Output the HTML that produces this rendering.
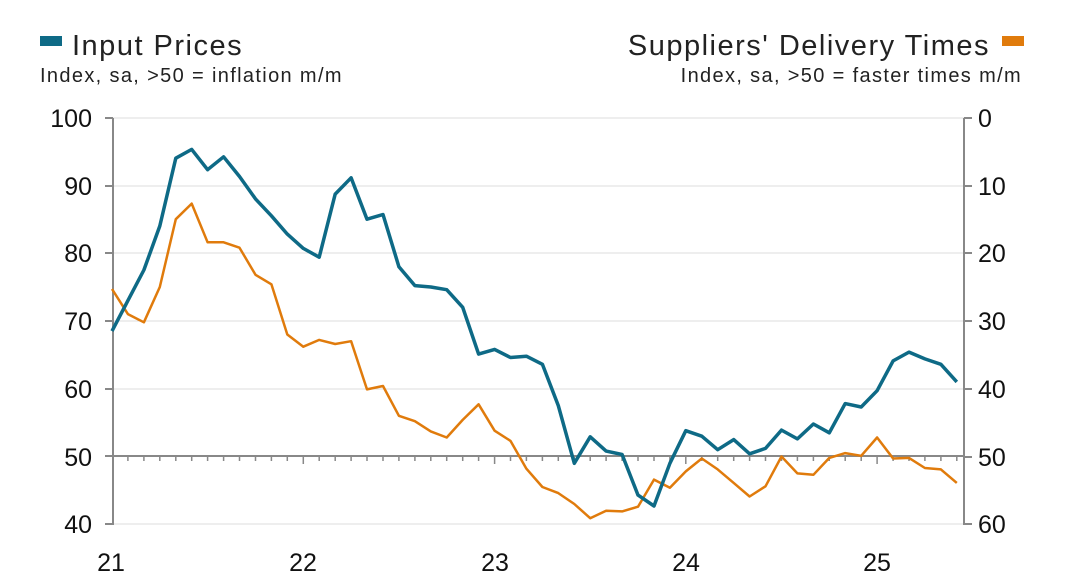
<!DOCTYPE html>
<html><head><meta charset="utf-8"><style>
body{margin:0;background:#fff;}
svg{display:block;font-family:"Liberation Sans",sans-serif;}
</style></head><body>
<svg width="1068" height="580" xmlns="http://www.w3.org/2000/svg">
<rect x="40" y="36" width="22" height="10" fill="#0e6a86"/>
<text x="72" y="55" font-size="29" letter-spacing="1.5" fill="#222">Input Prices</text>
<text x="40" y="82" font-size="20" letter-spacing="1.35" fill="#222">Index, sa, &gt;50 = inflation m/m</text>
<rect x="1002" y="36" width="22" height="10" fill="#e07b0c"/>
<text x="990" y="55" font-size="29" letter-spacing="1.5" fill="#222" text-anchor="end">Suppliers' Delivery Times</text>
<text x="1022" y="82" font-size="20" letter-spacing="1.35" fill="#222" text-anchor="end">Index, sa, &gt;50 = faster times m/m</text>
<g stroke="#dcdcdc" stroke-width="1">
<line x1="112" x2="965" y1="118" y2="118"/><line x1="112" x2="965" y1="186" y2="186"/>
<line x1="112" x2="965" y1="253" y2="253"/><line x1="112" x2="965" y1="321" y2="321"/>
<line x1="112" x2="965" y1="389" y2="389"/><line x1="112" x2="965" y1="524" y2="524"/>
</g>
<g stroke="#888" stroke-width="2" fill="none">
<line x1="113" y1="118" x2="113" y2="525"/><line x1="105" y1="118" x2="113" y2="118"/>
<line x1="105" y1="186" x2="113" y2="186"/><line x1="105" y1="253" x2="113" y2="253"/>
<line x1="105" y1="321" x2="113" y2="321"/><line x1="105" y1="389" x2="113" y2="389"/>
<line x1="105" y1="524" x2="113" y2="524"/>
<line x1="964" y1="118" x2="964" y2="525"/><line x1="964" y1="118" x2="972" y2="118"/>
<line x1="964" y1="186" x2="972" y2="186"/><line x1="964" y1="253" x2="972" y2="253"/>
<line x1="964" y1="321" x2="972" y2="321"/><line x1="964" y1="389" x2="972" y2="389"/>
<line x1="964" y1="457" x2="972" y2="457"/><line x1="964" y1="524" x2="972" y2="524"/>
<line x1="105" y1="456" x2="964" y2="456"/>
</g>
<path stroke="#888" stroke-width="1.5" fill="none" d="M127.9 456v5M143.9 456v5M159.8 456v5M175.8 456v5M191.7 456v5M207.6 456v5M223.6 456v5M239.5 456v5M255.5 456v5M271.4 456v5M287.3 456v5M303.3 456v8M319.2 456v5M335.2 456v5M351.1 456v5M367 456v5M383 456v5M398.9 456v5M414.9 456v5M430.8 456v5M446.7 456v5M462.7 456v5M478.6 456v5M494.6 456v8M510.5 456v5M526.4 456v5M542.4 456v5M558.3 456v5M574.3 456v5M590.2 456v5M606.1 456v5M622.1 456v5M638 456v5M654 456v5M669.9 456v5M685.8 456v8M701.8 456v5M717.7 456v5M733.7 456v5M749.6 456v5M765.5 456v5M781.5 456v5M797.4 456v5M813.4 456v5M829.3 456v5M845.2 456v5M861.2 456v5M877.1 456v8M893.1 456v5M909 456v5M924.9 456v5M940.9 456v5M956.8 456v5"/>
<g font-size="25" fill="#111">
<text x="92" y="127" text-anchor="end">100</text><text x="92" y="195" text-anchor="end">90</text>
<text x="92" y="262" text-anchor="end">80</text><text x="92" y="330" text-anchor="end">70</text>
<text x="92" y="398" text-anchor="end">60</text><text x="92" y="466" text-anchor="end">50</text>
<text x="92" y="533" text-anchor="end">40</text>
<text x="978" y="127">0</text><text x="978" y="195">10</text><text x="978" y="262">20</text>
<text x="978" y="330">30</text><text x="978" y="398">40</text><text x="978" y="466">50</text>
<text x="978" y="533">60</text>
<g text-anchor="middle"><text x="111" y="571">21</text><text x="303" y="571">22</text><text x="495" y="571">23</text><text x="686" y="571">24</text><text x="877" y="571">25</text></g>
</g>
<polyline id="o" fill="none" stroke="#e07b0c" stroke-width="2.5" stroke-linejoin="round"/>
<polyline id="b" fill="none" stroke="#0e6a86" stroke-width="3.5" stroke-linejoin="round"/>
<script>
var B=[68.5,73,77.5,84,94,95.3,92.3,94.2,91.3,88,85.5,82.8,80.7,79.4,88.7,91.1,85,85.7,78,75.2,75,74.6,72,65.1,65.8,64.6,64.8,63.6,57.5,49,52.9,50.8,50.3,44.3,42.7,49,53.8,53,51,52.5,50.4,51.2,53.9,52.6,54.8,53.5,57.8,57.3,59.7,64.1,65.4,64.4,63.6,61];
var O=[74.7,71,69.8,75,85,87.3,81.6,81.6,80.8,76.8,75.4,68,66.2,67.2,66.6,67,59.9,60.4,56,55.2,53.7,52.8,55.4,57.7,53.8,52.3,48.2,45.5,44.6,43,40.9,42,41.9,42.6,46.6,45.4,47.8,49.7,48.1,46.1,44.1,45.6,50,47.5,47.3,49.8,50.5,50.1,52.8,49.7,49.8,48.3,48.1,46.1];
function p(a){return a.map(function(v,i){return (112+i*15.94).toFixed(1)+","+(456.5-(v-50)*6.78).toFixed(1)}).join(" ")}
document.getElementById("b").setAttribute("points",p(B));
document.getElementById("o").setAttribute("points",p(O));
</script>
</svg>
</body></html>
